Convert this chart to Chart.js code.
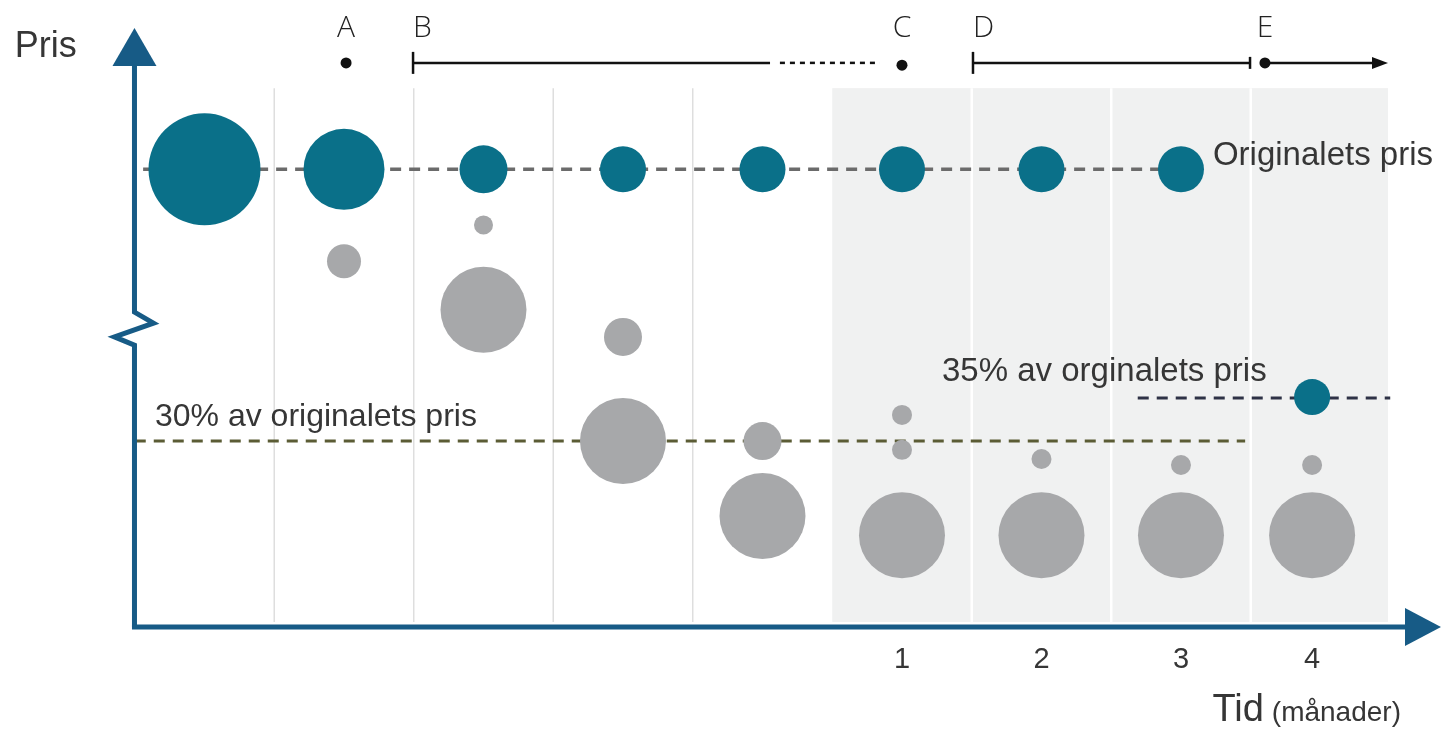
<!DOCTYPE html>
<html>
<head>
<meta charset="utf-8">
<script src="https://cdn.jsdelivr.net/npm/chart.js@4.4.1/dist/chart.umd.min.js"></script>
<style>
html,body{margin:0;padding:0;background:#fff;overflow:hidden;}
#wrap{width:1441px;height:731px;position:relative;}
</style>
</head>
<body>
<div id="wrap"><canvas id="c"></canvas></div>
<script>
// ---------- DATA ----------
// columns along the time axis (months; 1..4 are the labelled months)
const tealX = [-4, -3, -2, -1, 0, 1, 2, 3, 3.94];
const tealY = [99.7, 99.7, 99.7, 99.7, 99.7, 99.7, 99.7, 99.7, 50.1];
const tealR = [56, 40.5, 24, 23, 23, 23, 23, 23, 18];

const greyX = [-3, -2, -2, -1, -1, 0, 0, 1, 1, 1, 2, 2, 3, 3, 3.94, 3.94];
const greyY = [79.7, 87.6, 69.1, 63.2, 40.5, 40.5, 24.2, 46.2, 38.6, 20.0, 36.6, 20.0, 35.3, 20.0, 35.3, 20.0];
const greyR = [17, 9.5, 43, 19, 43, 19, 43, 10, 10, 43, 10, 43, 10, 43, 10, 43];

const origLineX = [-4.44, 3.17];  const origLineY = [99.7, 99.7];
const line30X = [-4.5, 3.46];     const line30Y = [40.5, 40.5];
const line35X = [2.69, 4.5];      const line35Y = [49.9, 49.9];

const tickPos = [1, 2, 3, 3.94];
const tickLabels = ['1', '2', '3', '4'];

const phaseLetters = ['A', 'B', 'C', 'D', 'E'];
const phaseX = [-2.985, -2.505, 1, 1.509, 3.602];

const gridX = [-3.5, -2.5, -1.5, -0.5];
const gridShadedX = [1.5, 2.5, 3.5];
const shadeRange = [0.5, 4.484];

const texts = {
  pris: 'Pris',
  orig: 'Originalets pris',
  p30: '30% av originalets pris',
  p35: '35% av orginalets pris',
  tid: 'Tid',
  unit: '(månader)'
};

// ---------- STYLE ----------
const TEAL = '#0a7089';
const GREY = '#a7a8aa';
const AXIS = '#175b86';
const TXT = '#363636';

const bubbles = (xs, ys, rs) => xs.map((x, i) => ({x: x, y: ys[i], r: rs[i]}));
const pts = (xs, ys) => xs.map((x, i) => ({x: x, y: ys[i]}));

const deco = {
  id: 'deco',
  beforeDatasetsDraw(chart) {
    const {ctx, scales: {x, y}} = chart;
    ctx.save();
    ctx.fillStyle = '#f0f1f1';
    const yt = y.getPixelForValue(117.4), yb = y.getPixelForValue(1.1);
    ctx.fillRect(x.getPixelForValue(shadeRange[0]), yt, x.getPixelForValue(shadeRange[1]) - x.getPixelForValue(shadeRange[0]), yb - yt);
    ctx.strokeStyle = '#dedede'; ctx.lineWidth = 1.5;
    gridX.forEach(v => { const px = x.getPixelForValue(v); ctx.beginPath(); ctx.moveTo(px, yt); ctx.lineTo(px, yb); ctx.stroke(); });
    ctx.strokeStyle = '#ffffff'; ctx.lineWidth = 2.5;
    gridShadedX.forEach(v => { const px = x.getPixelForValue(v); ctx.beginPath(); ctx.moveTo(px, yt); ctx.lineTo(px, yb); ctx.stroke(); });
    ctx.restore();
  },
  afterDatasetsDraw(chart) {
    const {ctx, scales: {x, y}} = chart;
    const X = v => x.getPixelForValue(v), Y = v => y.getPixelForValue(v);
    ctx.save();
    // ---- axes ----
    const ax = X(-4.502);
    ctx.strokeStyle = AXIS; ctx.fillStyle = AXIS; ctx.lineWidth = 5; ctx.lineJoin = 'miter';
    ctx.beginPath();
    ctx.moveTo(ax, Y(0));
    ctx.lineTo(ax, Y(61.4));
    ctx.lineTo(ax - 20, Y(63.2));
    ctx.lineTo(ax + 19, Y(66.2));
    ctx.lineTo(ax, Y(68.6));
    ctx.lineTo(ax, Y(123));
    ctx.stroke();
    ctx.beginPath();
    ctx.moveTo(ax - 2.5, Y(0));
    ctx.lineTo(X(4.62), Y(0));
    ctx.stroke();
    ctx.beginPath();
    ctx.moveTo(ax, Y(130.5));
    ctx.lineTo(ax - 22, Y(122.2));
    ctx.lineTo(ax + 22, Y(122.2));
    ctx.closePath(); ctx.fill();
    ctx.beginPath();
    ctx.moveTo(X(4.864), Y(0));
    ctx.lineTo(X(4.606), Y(0) - 19);
    ctx.lineTo(X(4.606), Y(0) + 19);
    ctx.closePath(); ctx.fill();

    // ---- timeline on top ----
    const ty = Y(122.9);
    ctx.strokeStyle = '#111'; ctx.fillStyle = '#111'; ctx.lineWidth = 2.5;
    const dot = (v, yy) => { ctx.beginPath(); ctx.arc(X(v), yy, 5.5, 0, Math.PI * 2); ctx.fill(); };
    const tick = (v, h) => { ctx.beginPath(); ctx.moveTo(X(v), ty - h); ctx.lineTo(X(v), ty + h); ctx.stroke(); };
    const seg = (a, b) => { ctx.beginPath(); ctx.moveTo(X(a), ty); ctx.lineTo(X(b), ty); ctx.stroke(); };
    dot(phaseX[0], ty);
    tick(phaseX[1], 11); seg(phaseX[1], 0.054);
    ctx.setLineDash([5, 5]); seg(0.125, 0.842); ctx.setLineDash([]);
    dot(phaseX[2], Y(122.4));
    tick(phaseX[3], 11); seg(phaseX[3], 3.495); tick(3.495, 6);
    dot(phaseX[4], ty);
    seg(phaseX[4], 4.40);
    ctx.beginPath();
    ctx.moveTo(X(4.484), ty); ctx.lineTo(X(4.484) - 16, ty - 6); ctx.lineTo(X(4.484) - 16, ty + 6); ctx.closePath(); ctx.fill();

    ctx.fillStyle = '#222';
    ctx.font = '300 30px "Open Sans", "DejaVu Sans", sans-serif';
    ctx.textBaseline = 'middle';
    phaseLetters.forEach((L, i) => {
      const left = (L === 'B' || L === 'D');
      ctx.textAlign = left ? 'left' : 'center';
      ctx.fillText(L, X(phaseX[i]), Y(130.3));
    });

    // ---- labels ----
    ctx.fillStyle = TXT;
    ctx.textAlign = 'left'; ctx.textBaseline = 'middle';
    ctx.font = '36px "Liberation Sans", Arial, sans-serif';
    ctx.fillText(texts.pris, X(-5.36), Y(126.3));
    ctx.font = '33px "Liberation Sans", Arial, sans-serif';
    ctx.fillText(texts.orig, X(3.229), Y(102.7));
    ctx.font = '32px "Liberation Sans", Arial, sans-serif';
    ctx.fillText(texts.p30, X(-4.355), Y(45.8));
    ctx.font = '33px "Liberation Sans", Arial, sans-serif';
    ctx.fillText(texts.p35, X(1.287), Y(55.6));

    ctx.textAlign = 'center';
    ctx.font = '29px "Liberation Sans", Arial, sans-serif';
    tickLabels.forEach((t, i) => ctx.fillText(t, X(tickPos[i]), Y(-7.2)));

    ctx.textAlign = 'right'; ctx.textBaseline = 'alphabetic';
    ctx.font = '28px "Liberation Sans", Arial, sans-serif';
    const uw = ctx.measureText(texts.unit).width;
    ctx.fillText(texts.unit, X(4.577), Y(-20.5));
    ctx.font = '38px "Liberation Sans", Arial, sans-serif';
    ctx.fillText(texts.tid, X(4.577) - uw - 8, Y(-20.5));
    ctx.restore();
  }
};

new Chart(document.getElementById('c'), {
  type: 'bubble',
  data: {
    datasets: [
      {type: 'bubble', data: bubbles(tealX, tealY, tealR), backgroundColor: TEAL, borderWidth: 0, order: 1},
      {type: 'bubble', data: bubbles(greyX, greyY, greyR), backgroundColor: GREY, borderWidth: 0, order: 1},
      {type: 'line', data: pts(origLineX, origLineY), borderColor: '#6b6b6b', borderWidth: 3.5, borderDash: [11, 8], pointRadius: 0, fill: false, order: 3},
      {type: 'line', data: pts(line30X, line30Y), borderColor: '#5b5c35', borderWidth: 3, borderDash: [11, 8], pointRadius: 0, fill: false, order: 3},
      {type: 'line', data: pts(line35X, line35Y), borderColor: '#2e3246', borderWidth: 3, borderDash: [11, 8], pointRadius: 0, fill: false, order: 3}
    ]
  },
  options: {
    responsive: true,
    maintainAspectRatio: false,
    animation: false,
    events: [],
    layout: {padding: 0, autoPadding: false},
    plugins: {legend: {display: false}, tooltip: {enabled: false}},
    scales: {
      x: {type: 'linear', min: -5.466, max: 4.864, display: false},
      y: {type: 'linear', min: -22.66, max: 136.6, display: false}
    },
    elements: {point: {hoverRadius: 0}}
  },
  plugins: [deco]
});
</script>
</body>
</html>
